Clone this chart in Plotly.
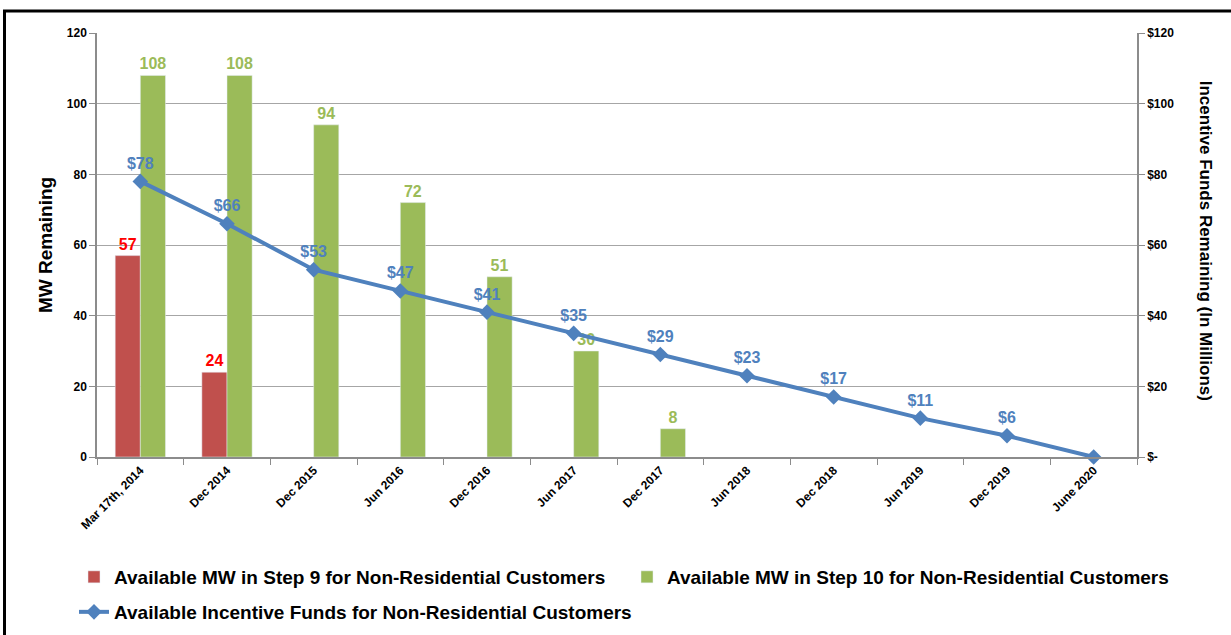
import plotly.graph_objects as go

categories = ["Mar 17th, 2014", "Dec 2014", "Dec 2015", "Jun 2016", "Dec 2016", "Jun 2017",
              "Dec 2017", "Jun 2018", "Dec 2018", "Jun 2019", "Dec 2019", "June 2020"]
step9_mw = [57, 24, None, None, None, None, None, None, None, None, None, None]
step10_mw = [108, 108, 94, 72, 51, 30, 8, None, None, None, None, None]
funds = [78, 66, 53, 47, 41, 35, 29, 23, 17, 11, 6, 0]
funds_labels = ["$78", "$66", "$53", "$47", "$41", "$35", "$29", "$23", "$17", "$11", "$6", ""]
left_ticks = [0, 20, 40, 60, 80, 100, 120]
right_ticks = [0, 20, 40, 60, 80, 100, 120]
right_ticktext = ["$-", "$20", "$40", "$60", "$80", "$100", "$120"]

RED = "#C0504D"
GREEN = "#9BBB59"
BLUE = "#4F81BD"
FONT = "Liberation Sans"

W, H = 1231, 635
L, R, T, B = 97, 94, 33, 178
pw, ph = W - L - R, H - T - B

def px_to_paper_x(x):
    return (x - L) / pw

def px_to_paper_y(y):
    return (H - B - y) / ph

def px_to_cont_x(x):
    return x / W

def px_to_cont_y(y):
    return 1 - y / H

fig = go.Figure()
fig.add_trace(go.Bar(
    x=categories, y=step9_mw, name="Available MW in Step 9 for Non-Residential Customers",
    marker_color=RED, text=[str(v) if v is not None else "" for v in step9_mw],
    textposition="outside", constraintext="none", cliponaxis=False,
    textfont=dict(color="#FF0000", size=16, family=FONT, weight="bold"),
    legend="legend",
))
fig.add_trace(go.Bar(
    x=categories, y=step10_mw, name="Available MW in Step 10 for Non-Residential Customers",
    marker_color=GREEN, text=[str(v) if v is not None else "" for v in step10_mw],
    textposition="outside", constraintext="none", cliponaxis=False,
    textfont=dict(color=GREEN, size=16, family=FONT, weight="bold"),
    legend="legend2",
))
fig.add_trace(go.Scatter(
    x=categories, y=funds, name="Available Incentive Funds for Non-Residential Customers",
    yaxis="y2", mode="lines+markers+text", text=funds_labels, textposition="top center",
    line=dict(color=BLUE, width=4), marker=dict(symbol="diamond", size=12, color=BLUE),
    textfont=dict(color=BLUE, size=16, family=FONT, weight="bold"), cliponaxis=False,
    legend="legend3",
))

tickfont = dict(family=FONT, size=12, color="black", weight="bold")
legfont = dict(family=FONT, size=19, color="black", weight="bold")

def leg(xpx, ypx):
    return dict(orientation="h", xref="container", yref="container",
                x=px_to_cont_x(xpx), y=px_to_cont_y(ypx),
                xanchor="left", yanchor="middle",
                font=legfont, bgcolor="rgba(0,0,0,0)")

fig.update_layout(
    width=W, height=H,
    margin=dict(l=L, r=R, t=T, b=B),
    paper_bgcolor="white", plot_bgcolor="white",
    barmode="group", bargap=0.42, bargroupgap=0,
    font=dict(family=FONT, color="black"),
    xaxis=dict(type="category", range=[-0.5, len(categories) - 0.5], autorange=False,
               tickangle=-45, tickfont=tickfont, showline=True,
               linecolor="#8c8c8c", linewidth=1.5, ticks="outside", tickson="boundaries",
               ticklen=6, tickcolor="#8c8c8c", showgrid=False),
    yaxis=dict(range=[0, 120], tickvals=left_ticks, tickfont=tickfont, showline=True,
               linecolor="#8c8c8c", linewidth=1.5, ticks="outside", ticklen=6,
               tickcolor="#8c8c8c", gridcolor="#a6a6a6", gridwidth=1.2, zeroline=False),
    yaxis2=dict(range=[0, 120], overlaying="y", side="right", tickvals=right_ticks,
                ticktext=right_ticktext, tickfont=tickfont, showline=True,
                linecolor="#8c8c8c", linewidth=1.5, ticks="outside", ticklen=6,
                tickcolor="#8c8c8c", showgrid=False, zeroline=False),
    legend=leg(74, 577),
    legend2=leg(627, 577),
    legend3=leg(74, 612),
    showlegend=True,
    annotations=[
        dict(text="MW Remaining", textangle=-90, xref="paper", yref="paper",
             x=px_to_paper_x(45), y=0.5, xanchor="center", yanchor="middle", showarrow=False,
             font=dict(family=FONT, size=19, color="black", weight="bold")),
        dict(text="Incentive Funds Remaining (In Millions)", textangle=90, xref="paper",
             yref="paper", x=px_to_paper_x(1205), y=0.51, xanchor="center", yanchor="middle",
             showarrow=False,
             font=dict(family=FONT, size=17, color="black", weight="bold")),
    ],
    shapes=[
        dict(type="rect", xref="paper", yref="paper",
             x0=px_to_paper_x(4.5), x1=px_to_paper_x(1245),
             y0=px_to_paper_y(650), y1=px_to_paper_y(11),
             line=dict(color="black", width=3), layer="above"),
    ],
)

fig.write_html("out.html")
